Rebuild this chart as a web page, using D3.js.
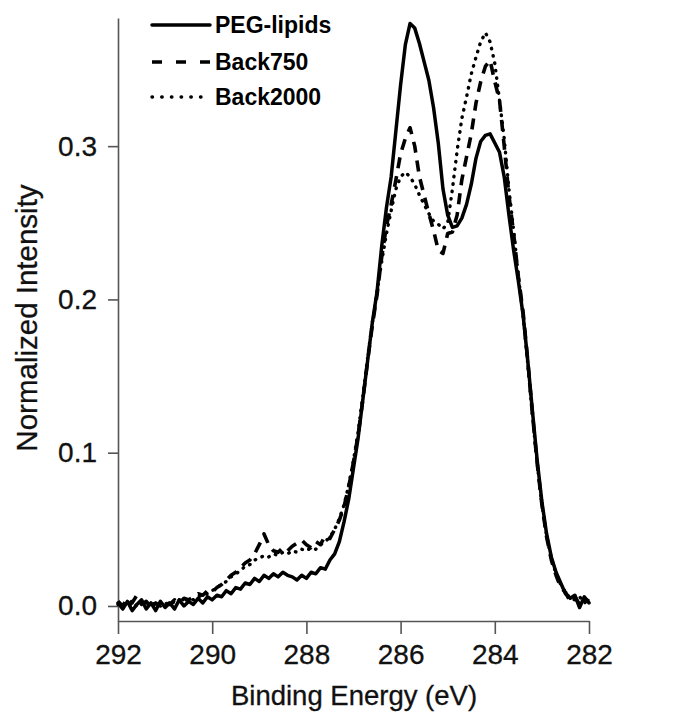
<!DOCTYPE html>
<html><head><meta charset="utf-8">
<script src="https://cdn.jsdelivr.net/npm/d3@7/dist/d3.min.js"></script>
<style>
html,body{margin:0;padding:0;background:#fff;}
svg{display:block;font-family:"Liberation Sans",Arial,Helvetica,sans-serif;}
</style></head><body>
<svg id="chart" width="675" height="715"></svg>
<script>
const energy = [292.0,291.9,291.8,291.7,291.6,291.5,291.4,291.3,291.2,291.1,291.0,290.9,290.8,290.7,290.6,290.5,290.4,290.3,290.2,290.1,290.0,289.9,289.8,289.7,289.6,289.5,289.4,289.3,289.2,289.1,289.0,288.9,288.8,288.7,288.6,288.5,288.4,288.3,288.2,288.1,288.0,287.9,287.8,287.7,287.6,287.5,287.4,287.3,287.2,287.1,287.0,286.9,286.8,286.7,286.6,286.5,286.4,286.3,286.2,286.1,286.0,285.9,285.8,285.7,285.6,285.5,285.4,285.3,285.2,285.1,285.0,284.9,284.8,284.7,284.6,284.5,284.4,284.3,284.2,284.1,284.0,283.9,283.8,283.7,283.6,283.5,283.4,283.3,283.2,283.1,283.0,282.9,282.8,282.7,282.6,282.5,282.4,282.3,282.2,282.1,282.0];

const pegLipids = [0.002,-0.002,0.003,-0.003,0.001,0.004,-0.002,0.002,-0.003,0.003,
-0.001,0.002,-0.002,0.004,0.000,0.003,0.001,0.005,0.002,0.006,
0.004,0.007,0.006,0.010,0.008,0.012,0.011,0.015,0.014,0.018,
0.016,0.020,0.018,0.021,0.019,0.022,0.020,0.019,0.017,0.020,
0.018,0.022,0.021,0.025,0.024,0.030,0.034,0.042,0.055,0.070,
0.090,0.110,0.135,0.160,0.185,0.205,0.235,0.260,0.280,0.310,
0.340,0.366,0.380,0.377,0.367,0.355,0.343,0.325,0.302,0.272,
0.255,0.247,0.248,0.253,0.262,0.275,0.292,0.303,0.307,0.308,
0.302,0.296,0.280,0.255,0.232,0.212,0.190,0.160,0.127,0.095,
0.068,0.047,0.032,0.022,0.015,0.008,0.005,0.007,-0.001,0.006,0.002];

const back750 = [0.003,0.000,0.005,0.002,0.007,0.001,0.003,-0.001,0.002,0.000,
0.003,0.001,0.004,0.002,0.005,0.004,0.006,0.008,0.007,0.010,
0.009,0.012,0.014,0.017,0.020,0.022,0.025,0.028,0.030,0.034,
0.040,0.047,0.040,0.036,0.035,0.038,0.036,0.039,0.041,0.043,
0.040,0.038,0.042,0.040,0.046,0.044,0.050,0.056,0.065,0.078,
0.094,0.112,0.135,0.160,0.183,0.203,0.228,0.248,0.262,0.278,
0.295,0.305,0.312,0.300,0.280,0.268,0.256,0.245,0.232,0.230,
0.243,0.244,0.255,0.278,0.293,0.308,0.328,0.342,0.352,0.356,
0.342,0.330,0.300,0.268,0.243,0.215,0.192,0.160,0.125,0.093,
0.066,0.045,0.030,0.020,0.012,0.009,0.003,0.006,0.001,0.005,0.003];

const back2000 = [0.001,0.002,-0.001,0.002,0.000,0.003,0.001,0.003,0.000,0.002,
0.001,0.003,0.002,0.004,0.003,0.005,0.004,0.006,0.007,0.008,
0.010,0.012,0.014,0.016,0.019,0.021,0.023,0.026,0.027,0.030,
0.031,0.033,0.032,0.034,0.033,0.035,0.034,0.036,0.035,0.037,
0.036,0.038,0.037,0.040,0.042,0.045,0.050,0.057,0.066,0.079,
0.095,0.114,0.137,0.162,0.185,0.205,0.225,0.243,0.258,0.272,
0.280,0.283,0.280,0.275,0.268,0.262,0.256,0.251,0.249,0.246,
0.250,0.272,0.297,0.318,0.332,0.347,0.358,0.368,0.374,0.368,
0.354,0.330,0.305,0.272,0.245,0.215,0.190,0.158,0.124,0.093,
0.066,0.046,0.031,0.021,0.014,0.009,0.005,0.004,0.006,0.002,0.004];

const seriesNames = ["PEG-lipids","Back750","Back2000"];
const xTicks = [292,290,288,286,284,282];
const yTicks = [0.0,0.1,0.2,0.3];

const svg = d3.select("#chart");
const x = d3.scaleLinear().domain([292,282]).range([118,589]);
const y = d3.scaleLinear().domain([-0.0098,0.3836]).range([621,18]);

const xAxis = d3.axisBottom(x).tickValues(xTicks).tickFormat(d3.format("d")).tickSize(13).tickSizeOuter(0).tickPadding(10);
const yAxis = d3.axisLeft(y).tickValues(yTicks).tickFormat(d3.format(".1f")).tickSize(10).tickSizeOuter(0).tickPadding(11);

const gx = svg.append("g").attr("transform","translate(0,621)").call(xAxis);
const gy = svg.append("g").attr("transform","translate(118,0)").call(yAxis);
[gx,gy].forEach(g=>{
  g.select(".domain").attr("stroke","#555").attr("stroke-width",1.6);
  g.selectAll(".tick line").attr("stroke","#555").attr("stroke-width",1.6);
  g.selectAll(".tick text").attr("fill","#111").attr("font-size",28)
    .attr("font-family","'Liberation Sans',Arial,sans-serif")
    .attr("stroke","#111").attr("stroke-width",0.3);
});

svg.append("text").attr("x",354).attr("y",705).attr("text-anchor","middle")
  .attr("font-size",27.5).attr("fill","#111").attr("stroke","#111").attr("stroke-width",0.3)
  .text("Binding Energy (eV)");
svg.append("text").attr("transform","translate(37,318) rotate(-90)").attr("text-anchor","middle")
  .attr("font-size",29.5).attr("fill","#111").attr("stroke","#111").attr("stroke-width",0.3)
  .text("Normalized Intensity");

const styles = [
  {data:pegLipids, dash:null, width:3.5, cap:"round", legDash:null},
  {data:back750, dash:"11,8", width:3.6, cap:"butt", legDash:"10,14"},
  {data:back2000, dash:"0.5,7", width:3.4, cap:"round", legDash:"0.5,9.2"}
];

const line = d3.line().x((d,i)=>x(energy[i])).y(d=>y(d));

[2,1,0].forEach(k=>{
  const s = styles[k];
  svg.append("path").datum(s.data)
    .attr("d",line).attr("fill","none").attr("stroke","#000")
    .attr("stroke-width",s.width).attr("stroke-linejoin","round")
    .attr("stroke-linecap",s.cap)
    .attr("stroke-dasharray",s.dash);
});

const legY = [25,62,97];
seriesNames.forEach((name,k)=>{
  const s = styles[k];
  svg.append("line").attr("x1",152).attr("x2",210).attr("y1",legY[k]).attr("y2",legY[k])
    .attr("stroke","#000").attr("stroke-width",s.width).attr("stroke-linecap",s.cap)
    .attr("stroke-dasharray",s.legDash);
  svg.append("text").attr("x",215).attr("y",legY[k]+8).attr("font-size",23)
    .attr("font-weight","bold").attr("fill","#000").text(name);
});
</script>
</body></html>
